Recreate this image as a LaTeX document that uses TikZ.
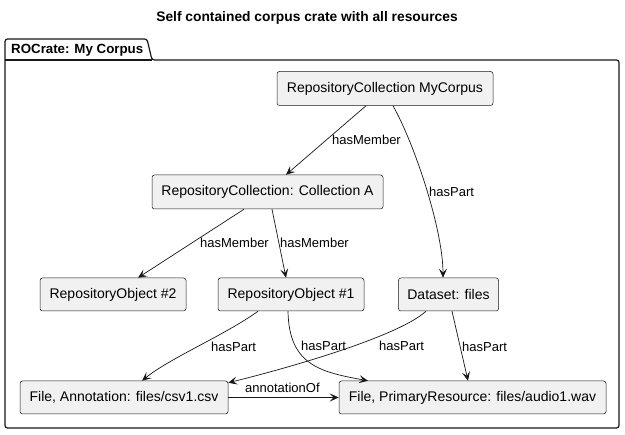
\documentclass[tikz,border=0pt]{standalone}
\usepackage{fontspec}
\setmainfont{Liberation Sans}
\usetikzlibrary{arrows.meta,calc}
\definecolor{lineC}{HTML}{181818}
\definecolor{boxC}{HTML}{F1F1F1}
\begin{document}
\begin{tikzpicture}[x=1pt,y=-1pt,
  box/.style={draw=lineC, fill=boxC, rounded corners=2.5pt, line width=0.5pt,
    minimum height=34pt, inner xsep=9pt, inner ysep=0pt,
    font=\fontsize{14}{16}\selectfont, text=black},
  rel/.style={draw=lineC, line width=0.7pt, -{Stealth[length=9pt,width=8pt,inset=4pt]}},
  lbl/.style={font=\fontsize{13}{15}\selectfont, inner sep=0pt, anchor=west, text=black},
  frameline/.style={draw=lineC, line width=1.2pt, rounded corners=2.5pt},
]
\useasboundingbox[fill=white] (0,0) rectangle (625,435);

% title
\node[font=\bfseries\fontsize{13.8}{16}\selectfont, inner sep=0pt] (title) at (307,18) {Self contained corpus crate with all resources};

% package frame with tab
\path[frameline, fill=white] (5,60) -- (5,39) -- (147,39) -- (152,60) -- (619,60) -- (619,428) -- (5,428) -- cycle;
\draw[draw=lineC, line width=1.2pt] (5,60) -- (152,60);
\node[lbl, font=\bfseries\fontsize{13.3}{15}\selectfont] (pkg) at (11,50) {ROCrate: My Corpus};

% nodes
\node[box, minimum width=216pt] (mc) at (385,88.5) {RepositoryCollection MyCorpus};
\node[box, minimum width=231pt] (ca) at (267.5,192) {RepositoryCollection: Collection A};
\node[box, minimum width=146pt, minimum height=33pt] (ro2) at (113,294.5) {RepositoryObject \#2};
\node[box, minimum width=146pt, minimum height=33pt] (ro1) at (291,294.5) {RepositoryObject \#1};
\node[box, minimum width=97pt, minimum height=33pt] (ds) at (448.5,294.5) {Dataset: files};
\node[box, minimum width=208pt, minimum height=33pt] (csv) at (124,397.5) {File, Annotation: files/csv1.csv};
\node[box, minimum width=267pt, minimum height=33pt] (wav) at (472.5,397.5) {File, PrimaryResource: files/audio1.wav};

% connectors
\draw[rel] ([xshift=-19pt]mc.south) -- ([xshift=18.5pt]ca.north);
\draw[rel] ([xshift=8pt]mc.south) .. controls (415,145) and (443,230) .. ([xshift=-5.5pt]ds.north);
\draw[rel] ([xshift=-23.5pt]ca.south) -- ([xshift=25pt]ro2.north);
\draw[rel] ([xshift=4.5pt]ca.south) -- ([xshift=-5pt]ro1.north);
\draw[rel] ([xshift=-33pt]ro1.south) .. controls (225,335) and (170,358) .. ([xshift=18pt]csv.north);
\draw[rel] ([xshift=-3pt]ro1.south) .. controls (289,365) and (320,372) .. ([xshift=-104.5pt]wav.north);
\draw[rel] ([xshift=-22.5pt]ds.south) .. controls (400,335) and (300,365) .. ([yshift=-2pt]csv.north east);
\draw[rel] ([xshift=3.5pt]ds.south) -- ([xshift=-4.5pt]wav.north);
\draw[rel] (csv.east) -- (wav.west);

% labels
\node[lbl] (l1) at (332,140) {hasMember};
\node[lbl] (l2) at (429,192) {hasPart};
\node[lbl] (l3) at (200,243) {hasMember};
\node[lbl] (l4) at (280,243) {hasMember};
\node[lbl] (l5) at (211,347) {hasPart};
\node[lbl] (l6) at (301,346) {hasPart};
\node[lbl] (l7) at (379,346) {hasPart};
\node[lbl] (l8) at (462,347) {hasPart};
\node[lbl] (l9) at (245,388) {annotationOf};
\end{tikzpicture}
\end{document}
